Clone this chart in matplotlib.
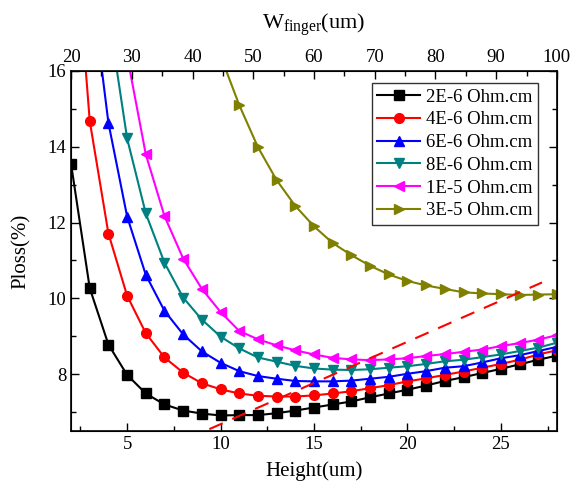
import matplotlib
matplotlib.use("Agg")
import matplotlib.pyplot as plt
from matplotlib.ticker import MultipleLocator

plt.rcParams['font.family'] = ['Liberation Serif', 'DejaVu Serif']
plt.rcParams['mathtext.fontset'] = 'custom'
plt.rcParams['mathtext.rm'] = 'Liberation Serif'

height = list(range(2, 29))

s_2e6 = [13.55, 10.27, 8.78, 7.98, 7.49, 7.20, 7.04, 6.96, 6.91, 6.92, 6.92, 6.97, 7.04, 7.12,
         7.20, 7.28, 7.39, 7.49, 7.59, 7.70, 7.82, 7.92, 8.03, 8.14, 8.26, 8.38, 8.49]
s_4e6 = [21.0, 14.68, 11.71, 10.07, 9.08, 8.44, 8.04, 7.76, 7.60, 7.49, 7.43, 7.41, 7.41, 7.44,
         7.49, 7.55, 7.63, 7.71, 7.81, 7.89, 7.98, 8.07, 8.17, 8.27, 8.38, 8.52, 8.63]
s_6e6 = [None, 18.6, 14.63, 12.16, 10.62, 9.67, 9.05, 8.60, 8.30, 8.08, 7.95, 7.88, 7.82, 7.81,
         7.81, 7.83, 7.88, 7.93, 8.01, 8.08, 8.17, 8.21, 8.31, 8.42, 8.50, 8.61, 8.72]
s_8e6 = [None, None, 17.5, 14.22, 12.24, 10.94, 10.02, 9.44, 8.99, 8.68, 8.44, 8.33, 8.22, 8.15,
         8.12, 8.11, 8.13, 8.17, 8.21, 8.27, 8.34, 8.38, 8.45, 8.52, 8.61, 8.70, 8.83]
s_1e5 = [None, None, None, 16.4, 13.80, 12.17, 11.05, 10.25, 9.64, 9.14, 8.92, 8.76, 8.63, 8.52,
         8.43, 8.39, 8.37, 8.39, 8.42, 8.48, 8.53, 8.59, 8.65, 8.74, 8.82, 8.91, 9.03]
s_3e5 = [None, None, None, None, None, None, None, None, 16.4, 15.10, 13.99, 13.12, 12.44, 11.90,
         11.46, 11.14, 10.86, 10.63, 10.46, 10.34, 10.25, 10.16, 10.13, 10.11, 10.09, 10.10, 10.11]

labels = ['2E-6 Ohm.cm', '4E-6 Ohm.cm', '6E-6 Ohm.cm', '8E-6 Ohm.cm', '1E-5 Ohm.cm', '3E-5 Ohm.cm']
colors = ['#000000', '#FF0000', '#0000FF', '#008080', '#FF00FF', '#808000']
markers = ['s', 'o', '^', 'v', '<', '>']

dash_x = [9.4, 27.2]
dash_y = [6.55, 10.42]

wfinger_lim = [20, 100]

fig = plt.figure(figsize=(5.73, 4.94), dpi=100)
ax = fig.add_axes([0.124, 0.1275, 0.848, 0.7288])

series = [s_2e6, s_4e6, s_6e6, s_8e6, s_1e5, s_3e5]
for ys, lab, c, m in zip(series, labels, colors, markers):
    xs = [h for h, v in zip(height, ys) if v is not None]
    vs = [v for v in ys if v is not None]
    ax.plot(xs, vs, color=c, marker=m, markersize=7, linewidth=1.5, label=lab)

ax.plot(dash_x, dash_y, color='#FF0000', linestyle=(0, (7, 5)), linewidth=1.5)

ax.set_xlim(2, 28)
ax.set_ylim(6.5, 16)
ax.xaxis.set_major_locator(MultipleLocator(5))
ax.xaxis.set_minor_locator(MultipleLocator(2.5))
ax.yaxis.set_major_locator(MultipleLocator(2))
ax.yaxis.set_minor_locator(MultipleLocator(1))
ax.tick_params(which='both', direction='in', labelsize=13.5, width=1, right=True)
ax.tick_params(which='major', length=6)
ax.tick_params(which='minor', length=3.5)
for sp in ax.spines.values():
    sp.set_linewidth(1.2)

ax.set_xlabel('Height(um)', fontsize=15, labelpad=6)
ax.set_ylabel('Ploss(%)', fontsize=15, labelpad=12)

ax2 = ax.twiny()
ax2.set_xlim(*wfinger_lim)
ax2.xaxis.set_major_locator(MultipleLocator(10))
ax2.xaxis.set_minor_locator(MultipleLocator(5))
ax2.tick_params(which='both', direction='in', labelsize=13.5, width=1)
ax2.tick_params(which='major', length=6)
ax2.tick_params(which='minor', length=3.5)
ax2.set_xlabel(r'W$_{\mathrm{finger}}$(um)', fontsize=16, labelpad=14)

leg = ax.legend(loc='upper right', bbox_to_anchor=(0.961, 0.967), fontsize=13.5,
                frameon=True, fancybox=False, edgecolor='black', handlelength=2.3,
                borderpad=0.3, labelspacing=0.3, handletextpad=0.3, borderaxespad=0)
leg.get_frame().set_linewidth(1.0)

fig.savefig('out.png', dpi=100)
